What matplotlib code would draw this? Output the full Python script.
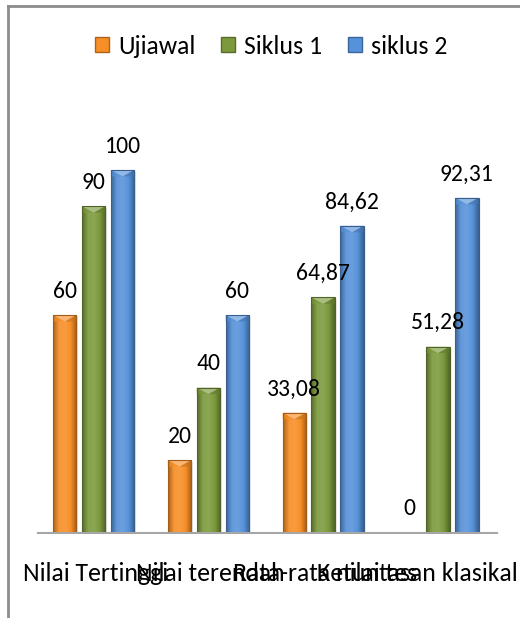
import matplotlib
matplotlib.use("Agg")
import matplotlib.pyplot as plt
import numpy as np
from matplotlib.colors import LinearSegmentedColormap, to_rgb
from matplotlib.patches import Polygon, Patch
from matplotlib.lines import Line2D
from matplotlib.transforms import ScaledTranslation

categories = ["Nilai Tertinggi", "Nilai terendah", "Rata-rata nilai tes", "Ketuntasan klasikal"]
series_names = ["Ujiawal", "Siklus 1", "siklus 2"]
ujiawal = [60, 20, 33.08, 0]
siklus1 = [90, 40, 64.87, 51.28]
siklus2 = [100, 60, 84.62, 92.31]
colors = ["#F78E26", "#7C9A3C", "#5692DA"]

FONT = ["Carlito", "Lato", "DejaVu Sans"]
plt.rcParams["font.family"] = FONT

W, H = 520, 618
fig = plt.figure(figsize=(W / 100, H / 100), dpi=100)
ax = fig.add_axes([38 / W, 85.3 / H, 459 / W, 435.3 / H])

x = np.arange(len(categories))
width = 0.204
step = 0.252
all_series = [ujiawal, siklus1, siklus2]


def shade(c, f):
    r, g, b = to_rgb(c)
    if f >= 0:
        return (r + (1 - r) * f, g + (1 - g) * f, b + (1 - b) * f)
    return (r * (1 + f), g * (1 + f), b * (1 + f))


px_per_unit = 435.3 / 120.0
for i, (vals, col) in enumerate(zip(all_series, colors)):
    bars = ax.bar(x + (i - 1) * step - 0.015, vals, width, color=col, zorder=2)
    cmap = LinearSegmentedColormap.from_list(
        "g", [shade(col, -0.3), shade(col, 0.08), shade(col, 0.12), col, shade(col, -0.35)])
    grad = np.linspace(0, 1, 64).reshape(1, -1)
    for b, v in zip(bars, vals):
        if v <= 0:
            continue
        bx, bw, bh = b.get_x(), b.get_width(), b.get_height()
        ax.add_patch(Polygon([(bx + bw, 0), (bx + bw + 0.014, 0), (bx + bw + 0.014, bh - 0.5), (bx + bw, bh)],
                             closed=True, color="#d8d8d8", zorder=1, lw=0))
        im = ax.imshow(grad, cmap=cmap, aspect="auto", extent=[bx, bx + bw, 0, bh], zorder=3)
        im.set_clip_path(b)
        d = 6.5 / px_per_unit
        ax.add_patch(Polygon([(bx, bh), (bx + bw, bh), (bx + bw / 2, bh - d)], closed=True,
                             color=shade(col, 0.35), zorder=4, lw=0))
        ax.add_patch(Polygon([(bx, bh), (bx + bw / 2, bh - d), (bx, bh - d)], closed=True,
                             color=shade(col, 0.0), zorder=4, lw=0, alpha=0.6))
        ax.add_patch(Polygon([(bx + bw, bh), (bx + bw / 2, bh - d), (bx + bw, bh - d)], closed=True,
                             color=shade(col, -0.2), zorder=4, lw=0, alpha=0.6))
        ax.add_patch(plt.Rectangle((bx, 0), bw, bh, fill=False, ec=shade(col, -0.35), lw=0.8, zorder=5))
    for b, v in zip(bars, vals):
        lab = f"{v:g}".replace(".", ",")
        ax.annotate(lab, (b.get_x() + b.get_width() / 2, v), xytext=(0, 12.5),
                    textcoords="offset points", ha="center", va="baseline",
                    fontsize=17, color="black", zorder=10, annotation_clip=False)

ax.set_xlim(-0.5, len(categories) - 0.5)
ax.set_ylim(0, 120)
for s in ["top", "right", "left"]:
    ax.spines[s].set_visible(False)
ax.spines["bottom"].set_color("#a6a6a6")
ax.spines["bottom"].set_linewidth(1.5)
ax.spines["bottom"].set_zorder(6)
ax.set_yticks([])
ax.set_xticks(x)
ax.set_xticklabels(categories, fontsize=18.5)
ax.tick_params(axis="x", length=0, pad=21)

handles = [Patch(facecolor=c, edgecolor=shade(c, -0.3)) for c in colors]
fig.legend(handles, series_names, loc="center", bbox_to_anchor=(271 / W, 1 - 46 / H),
           ncol=3, frameon=False, fontsize=18.5, handlelength=0.55, handleheight=0.55,
           handletextpad=0.35, columnspacing=1.0)

fig.add_artist(Line2D([8 / W, 8 / W], [0, 1 - 6 / H], color="#8c8c8c", lw=2, transform=fig.transFigure))
fig.add_artist(Line2D([8 / W, 1], [1 - 6 / H, 1 - 6 / H], color="#8c8c8c", lw=2, transform=fig.transFigure))

# keep the last category label inside the chart area (as the source does)
fig.canvas.draw()
lbl = ax.get_xticklabels()[-1]
bb = lbl.get_window_extent()
if bb.x1 > 518:
    lbl.set_transform(lbl.get_transform() + ScaledTranslation(-(bb.x1 - 518) / 100, 0, fig.dpi_scale_trans))

fig.savefig("out.png", dpi=100)
